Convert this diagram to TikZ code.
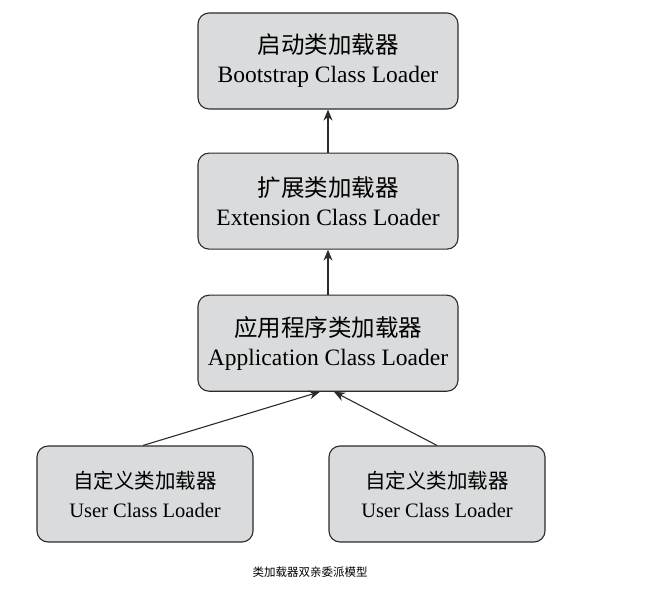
\documentclass[tikz,border=0pt]{standalone}
\usepackage{fontspec}
\setmainfont{Liberation Serif}
\newfontfamily\cjk{Noto Sans CJK SC}
\usetikzlibrary{arrows.meta,positioning}
\definecolor{loaderfill}{HTML}{DADBDC}
\definecolor{loaderline}{HTML}{2B2B2B}
\tikzset{
  loaderbox/.style={draw=loaderline,line width=1.1pt,rounded corners=11pt,fill=loaderfill,
                    align=center,minimum width=260pt,minimum height=96pt,
                    font=\fontsize{23.5}{29}\selectfont,inner sep=0pt},
  userbox/.style={loaderbox,minimum width=216pt,font=\fontsize{20.5}{29}\selectfont},
  parent/.style={-{Stealth[length=11pt,width=9pt]},loaderline,line width=1.1pt},
}

\begin{document}
\begin{tikzpicture}[x=1pt,y=-1pt,node distance=43pt]
\useasboundingbox (0,0) rectangle (661,593);

% --- parent chain ---
\node[loaderbox] (boot) at (328,61) {{\cjk 启动类加载器}\\Bootstrap Class Loader};
\node[loaderbox, below=of boot] (ext) {{\cjk 扩展类加载器}\\Extension Class Loader};
\node[loaderbox, below=45pt of ext] (app) {{\cjk 应用程序类加载器}\\Application Class Loader};

% --- user loaders ---
\node[userbox] (userA) at (145,494) {{\cjk 自定义类加载器}\\User Class Loader};
\node[userbox] (userB) at (437,494) {{\cjk 自定义类加载器}\\User Class Loader};

\draw[parent] (ext) -- (boot);
\draw[parent] (app) -- (ext);
\draw[parent] ([xshift=-2pt]userA.north) -- ([xshift=-8pt]app.south);
\draw[parent] (userB.north) -- ([xshift=6pt]app.south);

\node[font=\cjk\fontsize{11.5}{14}\selectfont] (caption) at (310,572) {类加载器双亲委派模型};

\end{tikzpicture}
\end{document}
